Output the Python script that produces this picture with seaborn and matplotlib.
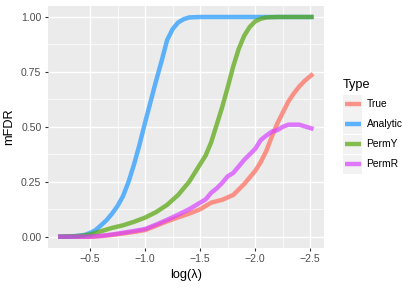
import matplotlib
matplotlib.use("Agg")
import matplotlib.pyplot as plt
from matplotlib.lines import Line2D
from matplotlib.patches import Rectangle
import seaborn as sns
import pandas as pd

# ---- data ----
types = ["True", "Analytic", "PermY", "PermR"]
colors = ["#FF6A5A", "#1E98FF", "#55A50A", "#D643FF"]

x_true = [-0.23, -0.5, -0.6, -0.7, -0.8, -0.9, -1.0, -1.1, -1.2, -1.3, -1.4, -1.5,
          -1.6, -1.7, -1.8, -1.9, -2.0, -2.05, -2.1, -2.15, -2.2, -2.25, -2.3,
          -2.35, -2.4, -2.45, -2.51]
y_true = [0.0, 0.0, 0.003, 0.008, 0.015, 0.022, 0.03, 0.05, 0.07, 0.088, 0.105, 0.125,
          0.155, 0.168, 0.19, 0.24, 0.30, 0.34, 0.39, 0.455, 0.515, 0.565, 0.615,
          0.652, 0.684, 0.71, 0.735]

x_analytic = [-0.23, -0.35, -0.45, -0.5, -0.55, -0.6, -0.65, -0.7, -0.75, -0.8, -0.85,
              -0.9, -0.95, -1.0, -1.05, -1.1, -1.15, -1.2, -1.25, -1.3, -1.35, -1.4,
              -1.5, -2.51]
y_analytic = [0.0, 0.002, 0.008, 0.017, 0.03, 0.052, 0.075, 0.105, 0.14, 0.185, 0.25,
              0.33, 0.42, 0.52, 0.615, 0.71, 0.80, 0.895, 0.945, 0.975, 0.99, 0.998,
              1.0, 1.0]

x_permy = [-0.23, -0.4, -0.5, -0.6, -0.7, -0.8, -0.9, -1.0, -1.1, -1.2, -1.3, -1.4,
           -1.5, -1.55, -1.6, -1.65, -1.7, -1.75, -1.8, -1.85, -1.9, -1.95, -2.0,
           -2.05, -2.1, -2.2, -2.51]
y_permy = [0.0, 0.003, 0.01, 0.025, 0.04, 0.052, 0.068, 0.087, 0.112, 0.145, 0.19, 0.25,
           0.33, 0.37, 0.43, 0.51, 0.59, 0.68, 0.775, 0.855, 0.915, 0.955, 0.98,
           0.992, 0.998, 1.0, 1.0]

x_permr = [-0.23, -0.5, -0.6, -0.7, -0.8, -0.9, -1.0, -1.1, -1.2, -1.3, -1.4, -1.5,
           -1.55, -1.6, -1.65, -1.7, -1.75, -1.8, -1.85, -1.9, -1.95, -2.0, -2.05,
           -2.1, -2.15, -2.2, -2.25, -2.3, -2.4, -2.45, -2.51]
y_permr = [0.0, 0.0, 0.004, 0.01, 0.018, 0.026, 0.035, 0.055, 0.077, 0.10, 0.125, 0.155,
           0.17, 0.20, 0.22, 0.245, 0.275, 0.29, 0.32, 0.35, 0.375, 0.40, 0.44,
           0.46, 0.478, 0.485, 0.50, 0.51, 0.51, 0.502, 0.493]

x_ticks = [-0.5, -1.0, -1.5, -2.0, -2.5]
y_ticks = [0.0, 0.25, 0.5, 0.75, 1.0]

series = {"True": (x_true, y_true), "Analytic": (x_analytic, y_analytic),
          "PermY": (x_permy, y_permy), "PermR": (x_permr, y_permr)}
df = pd.concat([pd.DataFrame({"x": xs, "y": ys, "Type": t})
                for t, (xs, ys) in series.items()], ignore_index=True)

# ---- figure ----
plt.rcParams["font.family"] = ["Liberation Sans", "DejaVu Sans"]
W, H = 415, 291
fig = plt.figure(figsize=(W / 100, H / 100), dpi=100)
L, R, T, B = 47.7, 324, 6, 247.7
ax = fig.add_axes([L / W, 1 - B / H, (R - L) / W, (B - T) / H])
ax.set_facecolor("#EBEBEB")
for s in ax.spines.values():
    s.set_visible(False)

# grid
for v in [0.125, 0.375, 0.625, 0.875]:
    ax.axhline(v, color="white", lw=0.5, zorder=0)
for v in [-0.75, -1.25, -1.75, -2.25]:
    ax.axvline(v, color="white", lw=0.5, zorder=0)
for v in y_ticks:
    ax.axhline(v, color="white", lw=1.0, zorder=0)
for v in x_ticks:
    ax.axvline(v, color="white", lw=1.0, zorder=0)

pal = dict(zip(types, colors))
for t in types:
    sub = df[df["Type"] == t]
    sns.lineplot(data=sub, x="x", y="y", color=pal[t], linewidth=3.2, alpha=0.7,
                 estimator=None, sort=False, ax=ax, legend=False, zorder=2)

xmin, xmax = -0.23, -2.51
dx = (xmax - xmin) * 0.05
ax.set_xlim(xmin - dx, xmax + dx)
ax.set_ylim(-0.05, 1.05)
ax.set_xticks(x_ticks)
ax.set_xticklabels([f"{v:.1f}".replace("-", "\u2212") for v in x_ticks])
ax.set_yticks(y_ticks)
ax.set_yticklabels([f"{v:.2f}" for v in y_ticks])
ax.tick_params(axis="both", length=2.5, width=0.8, color="#333333",
               labelcolor="#4D4D4D", labelsize=7.6, pad=2)
ax.set_xlabel("log(λ)", fontsize=9.2, color="black", labelpad=3.5)
ax.set_ylabel("mFDR", fontsize=9.2, color="black", labelpad=4)

# legend (manual, ggplot style)
def fx(px):
    return px / W

def fy(py):
    return 1 - py / H

fig.text(fx(342.5), fy(85), "Type", fontsize=9.2, va="center", ha="left")
for i, t in enumerate(types):
    cy = 104.3 + 20 * i
    fig.add_artist(Rectangle((fx(342.5), fy(cy + 9.8)), 19.6 / W, 19.6 / H,
                             transform=fig.transFigure, facecolor="#F2F2F2",
                             edgecolor="none"))
    fig.add_artist(Line2D([fx(345), fx(360.5)], [fy(cy), fy(cy)],
                          transform=fig.transFigure, color=pal[t], lw=3.2,
                          alpha=0.7, solid_capstyle="butt"))
    fig.text(fx(366.5), fy(cy), t, fontsize=7.4, va="center", ha="left", color="black")

fig.savefig("out.png", dpi=100)
